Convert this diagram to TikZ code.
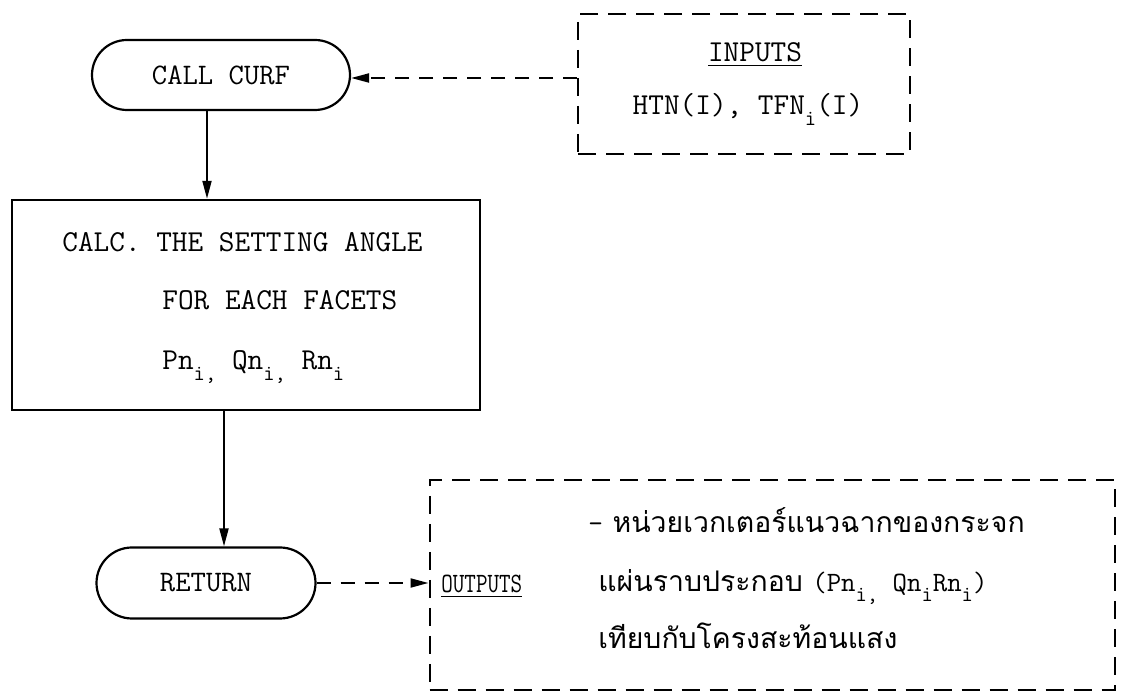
\documentclass[tikz,border=0pt]{standalone}
\usepackage{fontspec}
\usepackage{graphicx}
\newfontfamily\thai[Script=Thai]{Loma}
\usetikzlibrary{shapes.misc,arrows.meta}
\newcommand\sbx[1]{\raisebox{-0.8ex}{\fontsize{11}{13}\selectfont #1}}
\begin{document}
\begin{tikzpicture}[x=0.5pt,y=-0.5pt,
  term/.style={draw, rounded rectangle, line width=1.1pt, inner sep=0pt, font=\ttfamily\fontsize{14.9}{17}\selectfont},
  procbox/.style={draw, rectangle, line width=1.2pt, inner sep=0pt},
  dbox/.style={draw, rectangle, line width=1pt, dash pattern=on 9pt off 5pt, inner sep=0pt},
  txt/.style={inner sep=0pt, font=\ttfamily\fontsize{15.2}{18}\selectfont},
  lbl/.style={inner sep=0pt, font=\ttfamily\fontsize{14}{16}\selectfont},
  thaitxt/.style={inner sep=0pt, font=\thai\fontsize{14.2}{17}\selectfont},
  arr/.style={line width=1pt, -{Triangle[length=9pt,width=4.5pt]}},
  darr/.style={line width=1pt, dash pattern=on 7pt off 5pt, -{Triangle[length=9pt,width=4.5pt]}}
]
\fill[white] (0,0) rectangle (1126,694);
\useasboundingbox (0,0) rectangle (1126,694);

% terminals
\node[term, minimum width=129pt, minimum height=35pt] (curf) at (221,75) {CALL CURF};
\node[term, minimum width=109.5pt, minimum height=35.5pt] (ret) at (206,583) {RETURN};

% process box
\node[procbox, minimum width=234pt, minimum height=105pt] (calc) at (246,305) {};
\node[txt, anchor=base west] (c1) at (62,252) {CALC. THE SETTING ANGLE};
\node[txt, anchor=base west] (c2) at (162,310) {FOR EACH FACETS};
\node[txt, anchor=base west] (c3) at (162,370) {Pn\sbx{i,} Qn\sbx{i,} Rn\sbx{i}};

% inputs box
\node[dbox, minimum width=166pt, minimum height=70pt] (inputs) at (744,84) {};
\node[txt, anchor=base] (inl) at (755,62) {\underline{INPUTS}};
\node[txt, anchor=base] (inv) at (748,115) {HTN(I), TFN\sbx{i}(I)};

% outputs box
\node[dbox, minimum width=342.5pt, minimum height=105pt] (outputs) at (772,585) {};
\node[lbl, anchor=base west] (outl) at (441,593) {\scalebox{0.8}[1]{\underline{OUTPUTS}}};
\node[thaitxt, anchor=base west] (o1) at (588,533) {{\ttfamily–} หน่วยเวกเตอร์แนวฉากของกระจก};
\node[thaitxt, anchor=base west] (o2) at (598,592) {แผ่นราบประกอบ {\ttfamily\fontsize{14}{16}\selectfont(Pn\sbx{i,} Qn\sbx{i}Rn\sbx{i})}};
\node[thaitxt, anchor=base west] (o3) at (598,649) {เทียบกับโครงสะท้อนแสง};

% connectors
\draw[arr] ([xshift=-7pt]curf.south) -- ([xshift=-7pt]curf.south |- calc.north);
\draw[arr] ([xshift=-11pt]calc.south) -- ([xshift=-11pt]calc.south |- ret.north);
\draw[darr] ([yshift=-1.5pt]inputs.west |- curf.east) -- ([yshift=-1.5pt]curf.east);
\draw[darr] (ret.east) -- (ret.east -| outputs.west);
\end{tikzpicture}
\end{document}
